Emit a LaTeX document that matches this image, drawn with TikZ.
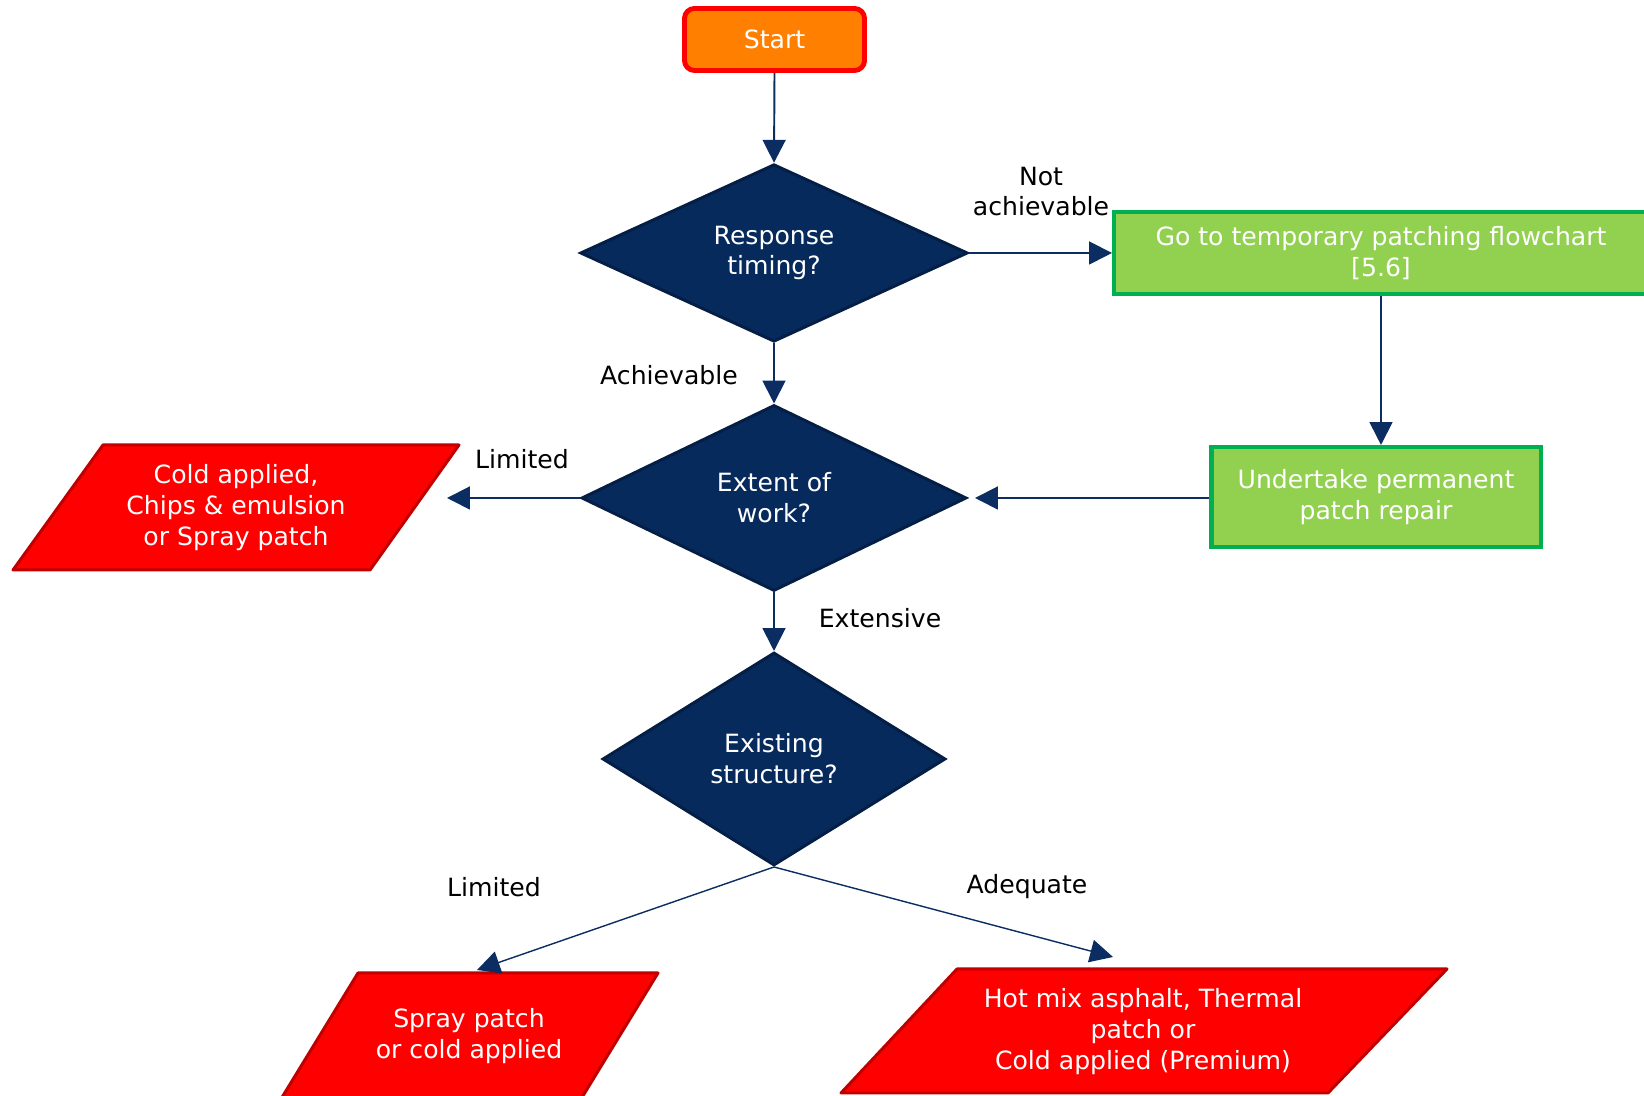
\documentclass[tikz,border=0pt]{standalone}
\usepackage{fontspec}
\setmainfont{DejaVu Sans}
\usetikzlibrary{shapes.geometric,arrows.meta}
\definecolor{navy}{HTML}{072A5C}
\definecolor{navyedge}{HTML}{041E45}
\definecolor{arrowblue}{HTML}{0B2D62}
\definecolor{leaf}{HTML}{92D050}
\definecolor{leafedge}{HTML}{00B050}
\definecolor{alarm}{HTML}{FF0000}
\definecolor{alarmedge}{HTML}{C00000}
\definecolor{amber}{HTML}{FF8000}
\begin{document}
\begin{tikzpicture}[
  font=\fontsize{14.3}{17.6}\selectfont,
  decision/.style={diamond, fill=navy, draw=navyedge, line width=1.7pt, text=white, align=center, inner sep=0pt},
  actionbox/.style={rectangle, fill=leaf, draw=leafedge, line width=2.3pt, text=white, align=center},
  outcome/.style={fill=alarm, draw=alarmedge, line width=1.7pt, line join=round},
  outtext/.style={text=white, align=center},
  flow/.style={draw=arrowblue, line width=1.1pt, -{Triangle[length=13pt,width=13pt]}},
  tag/.style={align=center, text=black}
]
\useasboundingbox (0,0) rectangle (32.88,21.92);
%
\node (start) [rectangle, rounded corners=0.2cm, fill=amber, draw=alarm, line width=2.8pt, text=white, minimum width=3.6cm, minimum height=1.24cm] at (15.49,21.13) {Start};
%
\node (resp) [decision, minimum width=7.75cm, minimum height=3.55cm] at (15.48,16.86) {Response\\timing?};
\node (extent) [decision, minimum width=7.7cm, minimum height=3.72cm] at (15.48,11.96) {Extent of\\work?};
\node (struct) [decision, minimum width=6.86cm, minimum height=4.26cm] at (15.48,6.74) {Existing\\structure?};
%
\node (temp) [actionbox, minimum width=10.68cm, minimum height=1.64cm] at (27.62,16.86) {Go to temporary patching flowchart\\{[5.6]}};
\node (perm) [actionbox, minimum width=6.58cm, minimum height=2.0cm] at (27.52,11.98) {Undertake permanent\\patch repair};
%
\draw[outcome] (0.26,10.52) -- (7.40,10.52) -- (9.18,13.02) -- (2.06,13.02) -- cycle;
\node (cold) [outtext] at (4.72,11.77) {Cold applied,\\Chips \& emulsion\\or Spray patch};
%
\draw[outcome] (5.62,-0.06) -- (11.62,-0.06) -- (13.16,2.46) -- (7.16,2.46) -- cycle;
\node (spray) [outtext] at (9.38,1.2) {Spray patch\\or cold applied};
%
\draw[outcome] (16.82,0.06) -- (26.56,0.06) -- (28.94,2.54) -- (19.14,2.54) -- cycle;
\node (hot) [outtext] at (22.86,1.28) {Hot mix asphalt, Thermal\\patch or\\Cold applied (Premium)};
%
\node (na) [tag] at (20.82,18.09) {Not\\achievable};
\node (ach) [tag] at (13.38,14.42) {Achievable};
\node (limA) [tag] at (10.44,12.74) {Limited};
\node (ext) [tag] at (17.6,9.56) {Extensive};
\node (limB) [tag] at (9.88,4.18) {Limited};
\node (adq) [tag] at (20.54,4.18) {Adequate};
%
\coordinate (coldtip) at (8.94,11.96);
\coordinate (spraytip) at (9.54,2.52);
\coordinate (hottip) at (22.26,2.78);
%
\draw[flow] (start.south) -- (resp.north);
\draw[flow] (resp.east) -- (temp.west);
\draw[flow] (temp.south) -- (temp.south |- perm.north);
\draw[flow] (resp.south) -- (extent.north);
\draw[flow, shorten >=0.14cm] (perm.west |- extent.east) -- (extent.east);
\draw[flow] (extent.west) -- (coldtip);
\draw[flow] (extent.south) -- (struct.north);
\draw[flow, line width=0.8pt] (struct.south) -- (spraytip);
\draw[flow, line width=0.8pt] (struct.south) -- (hottip);
\end{tikzpicture}
\end{document}
